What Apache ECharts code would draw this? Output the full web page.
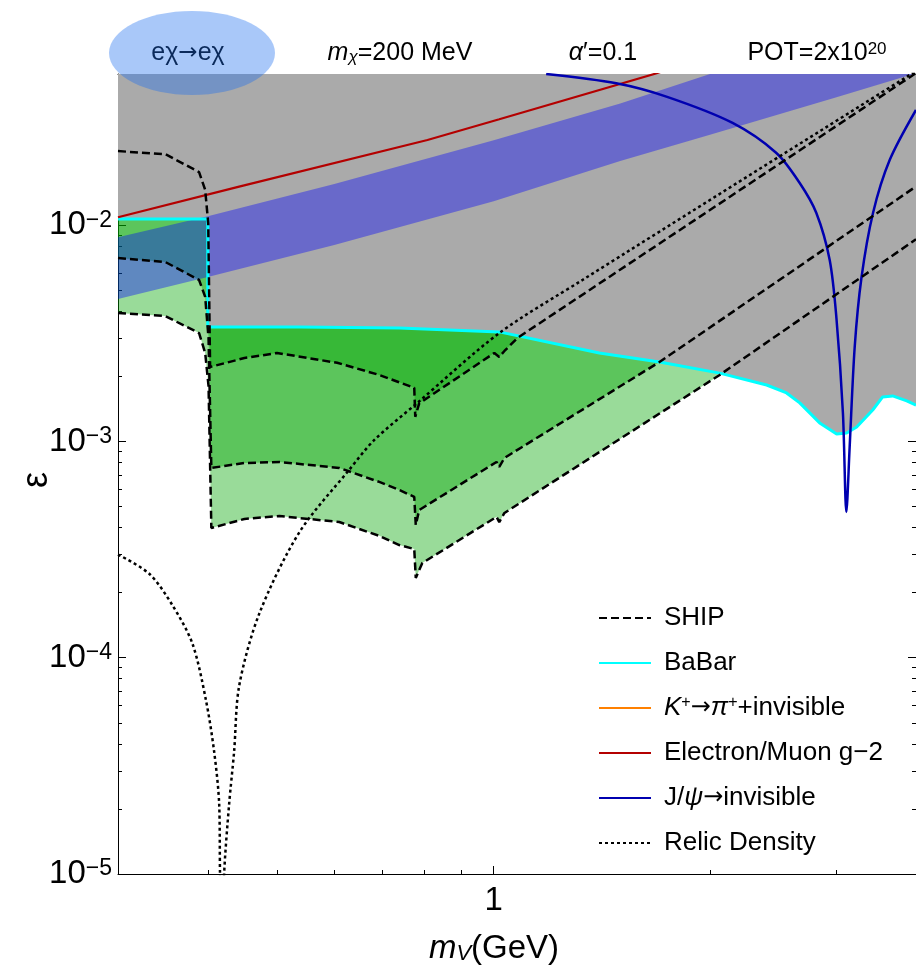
<!DOCTYPE html>
<html><head><meta charset="utf-8">
<script src="https://cdn.jsdelivr.net/npm/echarts@6/dist/echarts.min.js"></script>
<style>html,body{margin:0;padding:0;background:#fff}#c{width:916px;height:968px}</style>
</head><body><div id="c"></div>
<script>
// ---------- axis ranges & ticks ----------
const X_MIN = 0.3, X_MAX = 3.87, Y_MIN = 1e-5, Y_MAX = 0.05;
const xMajorTicks = [1];
const xMinorTicks = [0.4, 0.5, 0.6, 0.7, 0.8, 0.9, 2, 3];
const yMajorTicks = [1e-5, 1e-4, 1e-3, 1e-2];
const yMinorTicks = [2e-5,3e-5,4e-5,5e-5,6e-5,7e-5,8e-5,9e-5,
                     2e-4,3e-4,4e-4,5e-4,6e-4,7e-4,8e-4,9e-4,
                     2e-3,3e-3,4e-3,5e-3,6e-3,7e-3,8e-3,9e-3,
                     2e-2,3e-2,4e-2];

// ---------- data (m_V [GeV], epsilon) ----------
const shipC1 = [[0.300,2.20e-2],[0.349,2.13e-2],[0.389,1.76e-2],[0.3967,1.455e-2],[0.4006,1.02e-2],[0.4030,2.21e-3],
  [0.4498,2.43e-3],[0.4994,2.565e-3],[0.6056,2.31e-3],[0.693,2.03e-3],[0.7752,1.77e-3],[0.7777,1.30e-3],
  [0.7876,1.50e-3],[1.002,2.565e-3],[1.018,2.46e-3],[1.035,2.62e-3],[1.079,3.01e-3],[3.87,5.05e-2]];
const shipC2 = [[0.300,7.05e-3],[0.349,6.76e-3],[0.389,5.58e-3],[0.3967,4.66e-3],[0.4010,3.0e-3],[0.4046,7.54e-4],
  [0.4498,7.95e-4],[0.5032,8.04e-4],[0.6097,7.54e-4],[0.693,6.50e-4],[0.7389,5.97e-4],[0.7752,5.54e-4],
  [0.7790,4.11e-4],[0.7876,4.82e-4],[1.009,8.04e-4],[1.018,7.62e-4],[1.035,8.39e-4],[1.701,2.33e-3],[3.87,1.51e-2]];
const shipC3 = [[0.300,3.93e-3],[0.349,3.80e-3],[0.389,3.17e-3],[0.3967,2.565e-3],[0.4010,1.8e-3],[0.4046,3.98e-4],
  [0.4498,4.38e-4],[0.5032,4.52e-4],[0.6097,4.24e-4],[0.693,3.66e-4],[0.7389,3.32e-4],[0.7752,3.18e-4],
  [0.7790,2.34e-4],[0.7955,2.74e-4],[1.009,4.48e-4],[1.018,4.24e-4],[1.035,4.67e-4],[2.063,2.03e-3],[3.87,8.6e-3]];
const babar = [[0.300,1.069e-2],[0.400,1.069e-2],[0.400,3.38e-3],[0.536,3.38e-3],[0.739,3.35e-3],[1.018,3.21e-3],
  [1.403,2.565e-3],[1.701,2.33e-3],[2.063,2.07e-3],[2.398,1.824e-3],[2.556,1.676e-3],[2.666,1.507e-3],
  [2.842,1.218e-3],[3.001,1.083e-3],[3.099,1.095e-3],[3.200,1.167e-3],[3.369,1.398e-3],[3.478,1.606e-3],
  [3.591,1.623e-3],[3.757,1.539e-3],[3.87,1.47e-3]];
const gm2 = [[0.300,1.088e-2],[0.4423,1.507e-2],[0.8087,2.476e-2],[1.018,3.088e-2],[1.673,5.0e-2],[1.75,5.25e-2]];
const jpsi = [[1.183,5.0e-2],[1.481,4.53e-2],[1.739,3.93e-2],[2.150,2.97e-2],[2.474,2.157e-2],
  [2.666,1.567e-2],[2.812,1.139e-2],[2.935,6.90e-3],[2.999,3.72e-3],[3.062,1.354e-3],[3.096,4.72e-4],
  [3.129,9.46e-4],[3.180,2.74e-3],[3.249,5.70e-3],[3.372,1.139e-2],[3.557,2.0e-2],[3.87,3.41e-2]];
const relic = [[0.300,3.0e-4],[0.3316,2.445e-4],[0.3572,1.748e-4],[0.3808,1.162e-4],[0.3975,6.41e-5],[0.4083,3.67e-5],
  [0.4149,2.10e-5],[0.4160,1.0e-5],[0.4185,4e-6],[0.4215,1.0e-5],[0.4283,2.10e-5],[0.4352,3.67e-5],[0.4423,7.4e-5],
  [0.4718,1.6e-4],[0.5364,3.8e-4],[0.6295,7.4e-4],[0.6821,1.016e-3],[0.7829,1.507e-3],[1.018,3.17e-3],
  [1.329,5.58e-3],[3.793,4.95e-2],[3.87,5.15e-2]];
const kpi = [];
const bandX    = [0.3,    0.4,    0.6,     1.0,     1.5,     2.0,     3.0,    3.9];
const bandLow  = [4.56e-3,5.76e-3,8.1e-3,  1.29e-2, 1.98e-2, 2.62e-2, 3.9e-2, 5.08e-2];
const bandHigh = [8.8e-3, 1.1e-2, 1.55e-2, 2.47e-2, 3.65e-2, 5.0e-2,  7.5e-2, 9.8e-2];

// ---------- helpers ----------
const FONT = '"Liberation Sans", Arial, Helvetica, sans-serif';
const ARROWFONT = '"DejaVu Sans", sans-serif';
const LG = v => Math.log10(v);

function clipPoly(poly, r) {
  const x0 = r.x, x1 = r.x + r.width, y0 = r.y, y1 = r.y + r.height;
  const planes = [
    {inside: p => p[0] >= x0, inter: (a, b) => { const t = (x0 - a[0]) / (b[0] - a[0]); return [x0, a[1] + t * (b[1] - a[1])]; }},
    {inside: p => p[0] <= x1, inter: (a, b) => { const t = (x1 - a[0]) / (b[0] - a[0]); return [x1, a[1] + t * (b[1] - a[1])]; }},
    {inside: p => p[1] >= y0, inter: (a, b) => { const t = (y0 - a[1]) / (b[1] - a[1]); return [a[0] + t * (b[0] - a[0]), y0]; }},
    {inside: p => p[1] <= y1, inter: (a, b) => { const t = (y1 - a[1]) / (b[1] - a[1]); return [a[0] + t * (b[0] - a[0]), y1]; }}
  ];
  let out = poly;
  for (const pl of planes) {
    const inp = out; out = [];
    if (!inp.length) break;
    for (let i = 0; i < inp.length; i++) {
      const cur = inp[i], prev = inp[(i + inp.length - 1) % inp.length];
      const ci = pl.inside(cur), pi = pl.inside(prev);
      if (ci) { if (!pi) out.push(pl.inter(prev, cur)); out.push(cur); }
      else if (pi) out.push(pl.inter(prev, cur));
    }
  }
  return out;
}
function polySeries(name, poly, fill, z) {
  return {
    type: 'custom', name: name, silent: true, z: z, xAxisIndex: 0, yAxisIndex: 0,
    data: [[1, 1e-3]], encode: {x: 0, y: 1},
    renderItem: function (params, api) {
      const pts = poly.map(p => api.coord(p));
      return {type: 'polygon', shape: {points: clipPoly(pts, params.coordSys)}, style: {fill: fill, stroke: null}};
    }
  };
}
function aboveCurve(curve) { // region between a curve and the top of the frame
  return curve.concat([[X_MAX, Y_MAX], [X_MIN, Y_MAX]]);
}
const bandPoly = bandX.map((x, i) => [x, bandHigh[i]]).concat(bandX.map((x, i) => [x, bandLow[i]]).reverse());

function lineSeries(name, data, color, width, type, z, smooth) {
  return {type: 'line', name: name, data: data, xAxisIndex: 0, yAxisIndex: 0, symbol: 'none', showSymbol: false,
    silent: true, z: z || 5, clip: true, smooth: smooth || false,
    lineStyle: {color: color, width: width, type: type || 'solid'},
    itemStyle: {color: color}};
}

const GREEN = 'rgba(0,165,0,0.4)';
const series = [
  polySeries('f3', aboveCurve(shipC3), GREEN, 1),
  polySeries('f2', aboveCurve(shipC2), GREEN, 1),
  polySeries('f1', aboveCurve(shipC1), GREEN, 1),
  polySeries('gray', aboveCurve(babar), '#aaaaaa', 2),
  polySeries('band', bandPoly, 'rgba(0,0,255,0.38)', 3),
  lineSeries('SHIP', shipC1, '#000', 2.5, [8, 4], 6),
  lineSeries('SHIP', shipC2, '#000', 2.5, [8, 4], 6),
  lineSeries('SHIP', shipC3, '#000', 2.5, [8, 4], 6),
  lineSeries('BaBar', babar, '#00ffff', 3, 'solid', 5),
  lineSeries('Kpi', kpi, '#ff8000', 3, 'solid', 5),
  lineSeries('g2', gm2, '#b40000', 2.2, 'solid', 5),
  lineSeries('Jpsi', jpsi, '#0000b0', 2.5, 'solid', 5, 0.3),
  lineSeries('Relic', relic, '#000', 2.5, [3, 3], 6, 0.3)
];

const legendText = {
  SHIP: 'SHIP', BaBar: 'BaBar',
  Kpi: '{i|K}{s|+}{a|→}{i|π}{s|+}+invisible',
  g2: 'Electron/Muon g−2',
  Jpsi: 'J/{i|ψ}{a|→}invisible',
  Relic: 'Relic Density'
};

const axisBlack = {color: '#000', width: 1};
function tickAxis(pos, lo, hi, ticks, len, withLine, extra) {
  return Object.assign({
    type: 'value', position: pos, min: lo, max: hi, scale: true,
    axisLine: {show: withLine, onZero: false, lineStyle: axisBlack},
    axisTick: {show: true, inside: true, length: len, customValues: ticks.map(LG), lineStyle: axisBlack},
    axisLabel: {show: false},
    splitLine: {show: false}, minorTick: {show: false}
  }, extra || {});
}
const XL = LG(X_MIN), XH = LG(X_MAX), YL = LG(Y_MIN), YH = LG(Y_MAX);

const option = {
  animation: false,
  backgroundColor: '#fff',
  grid: {left: 118, right: 0, top: 74, bottom: 94, containLabel: false, outerBoundsMode: 'none'},
  xAxis: [
    {type: 'log', logBase: 10, min: X_MIN, max: X_MAX, show: false, position: 'bottom'},
    tickAxis('bottom', XL, XH, xMajorTicks, 8, true, {
      axisLabel: {show: true, customValues: xMajorTicks.map(LG), margin: 10, color: '#000', fontSize: 33, fontFamily: FONT,
        formatter: v => String(+Math.pow(10, v).toPrecision(3))},
      name: '{i|m}{sub|V}(GeV)', nameLocation: 'middle', nameGap: 58, nameMoveOverlap: false,
      nameTextStyle: {color: '#000', fontSize: 33, lineHeight: 33, fontFamily: FONT, padding: [0, 46, 0, 0],
        rich: {i: {fontStyle: 'italic', fontSize: 33, lineHeight: 33, fontFamily: FONT, color: '#000'},
               sub: {fontStyle: 'italic', fontSize: 22, lineHeight: 9, verticalAlign: 'bottom', fontFamily: FONT, color: '#000'}}}
    }),
    tickAxis('bottom', XL, XH, xMinorTicks, 4, false),
    tickAxis('top', XL, XH, xMajorTicks, 8, true),
    tickAxis('top', XL, XH, xMinorTicks, 4, false)
  ],
  yAxis: [
    {type: 'log', logBase: 10, min: Y_MIN, max: Y_MAX, show: false, position: 'left'},
    tickAxis('left', YL, YH, yMajorTicks, 8, true, {
      axisLabel: {show: true, customValues: yMajorTicks.map(LG), margin: 6, color: '#000', fontFamily: FONT,
        fontSize: 33, lineHeight: 33,
        formatter: v => '{b|10}{s|−' + Math.round(-v) + '}',
        rich: {b: {fontSize: 33, lineHeight: 33, fontFamily: FONT, color: '#000'},
               s: {fontSize: 23, lineHeight: 23, verticalAlign: 'top', fontFamily: FONT, color: '#000'}}},
      name: 'ε', nameLocation: 'middle', nameRotate: 90, nameGap: 63, nameMoveOverlap: false,
      nameTextStyle: {color: '#000', fontSize: 36, fontFamily: FONT, padding: [0, 12, 0, 0]}
    }),
    tickAxis('left', YL, YH, yMinorTicks, 4, false),
    tickAxis('right', YL, YH, yMajorTicks, 8, true),
    tickAxis('right', YL, YH, yMinorTicks, 4, false)
  ],
  legend: {
    orient: 'vertical', left: 593, top: 600, itemWidth: 52, itemHeight: 14, itemGap: 19,
    selectedMode: false, data: ['SHIP', 'BaBar', 'Kpi', 'g2', 'Jpsi', 'Relic'],
    formatter: n => legendText[n],
    itemStyle: {opacity: 0, borderWidth: 0},
    textStyle: {color: '#000', fontSize: 26, lineHeight: 26, fontFamily: FONT, padding: [0, 0, 0, 8],
      rich: {i: {fontStyle: 'italic', fontSize: 26, lineHeight: 26, fontFamily: FONT, color: '#000'},
             a: {fontSize: 24, lineHeight: 26, fontFamily: ARROWFONT, color: '#000'},
             s: {fontSize: 16, lineHeight: 16, verticalAlign: 'top', fontFamily: FONT, color: '#000'}}}
  },
  graphic: [
    {type: 'text', x: 188, y: 53, z: 100,
      style: {text: 'eχ{a|→}eχ', fill: '#000', fontSize: 25, lineHeight: 25, fontFamily: FONT, align: 'center', verticalAlign: 'middle',
        rich: {a: {fontSize: 23, lineHeight: 25, fontFamily: ARROWFONT, fill: '#000'}}}},
    {type: 'ellipse', z: 101, shape: {cx: 192, cy: 53, rx: 83, ry: 42}, style: {fill: 'rgba(30,110,240,0.38)'}},
    {type: 'text', x: 400, y: 53, z: 100,
      style: {text: '{i|m}{sub|χ}=200 MeV', fill: '#000', fontSize: 25, lineHeight: 25, fontFamily: FONT, align: 'center', verticalAlign: 'middle',
        rich: {i: {fontStyle: 'italic', fontSize: 25, lineHeight: 25, fontFamily: FONT, fill: '#000'},
               sub: {fontStyle: 'italic', fontSize: 17, lineHeight: 8, verticalAlign: 'bottom', fontFamily: FONT, fill: '#000'}}}},
    {type: 'text', x: 603, y: 53, z: 100,
      style: {text: '{i|α}′=0.1', fill: '#000', fontSize: 25, lineHeight: 25, fontFamily: FONT, align: 'center', verticalAlign: 'middle',
        rich: {i: {fontStyle: 'italic', fontSize: 25, lineHeight: 25, fontFamily: FONT, fill: '#000'}}}},
    {type: 'text', x: 817, y: 53, z: 100,
      style: {text: 'POT=2x10{sup|20}', fill: '#000', fontSize: 25, lineHeight: 25, fontFamily: FONT, align: 'center', verticalAlign: 'middle',
        rich: {sup: {fontSize: 17, lineHeight: 17, verticalAlign: 'top', fontFamily: FONT, fill: '#000'}}}}
  ],
  series: series
};

const chart = echarts.init(document.getElementById('c'), null, {renderer: 'canvas'});
chart.setOption(option);
</script>
</body></html>
